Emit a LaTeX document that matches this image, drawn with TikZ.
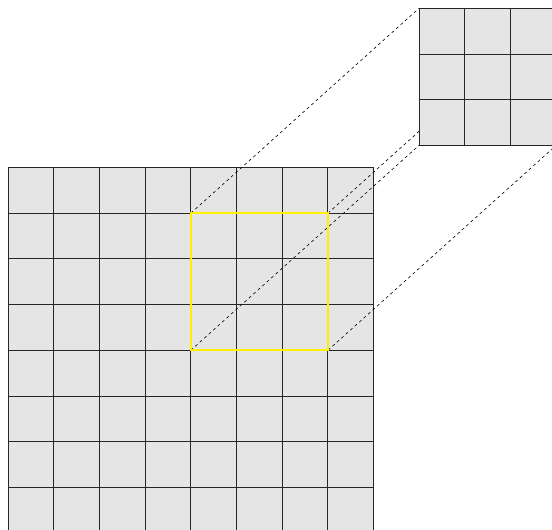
\documentclass[tikz,border=0pt]{standalone}
\usetikzlibrary{calc}
\begin{document}
\begin{tikzpicture}[x=1pt,y=-1pt,
  cellfill/.style={fill=black!10},
  gridline/.style={draw=black!85,line width=0.9pt},
  zoomline/.style={draw=black,line width=0.6pt,dash pattern=on 3pt off 3pt},
  selbox/.style={draw=yellow,line width=1.8pt}]
\useasboundingbox (0,0) rectangle (552,530);
\clip (0,0) rectangle (552,530);
\pgfmathsetmacro{\cs}{45.7}
% big grid
\coordinate (B) at (8,167.5);
\fill[cellfill] (B) rectangle +(8*\cs,8*\cs);
\foreach \i in {0,...,8}{
  \draw[gridline] ($(B)+(\i*\cs,0)$) -- ++(0,8*\cs);
  \draw[gridline] ($(B)+(0,\i*\cs)$) -- ++(8*\cs,0);
}
% selection corners
\coordinate (s1) at ($(B)+(4*\cs,1*\cs)$);
\coordinate (s2) at ($(B)+(7*\cs,1*\cs)$);
\coordinate (s3) at ($(B)+(7*\cs,4*\cs)$);
\coordinate (s4) at ($(B)+(4*\cs,4*\cs)$);
% small grid corners
\coordinate (S) at (419,8.3);
\coordinate (z1) at (S);
\coordinate (z2) at ($(S)+(3*\cs,0)$);
\coordinate (z3) at ($(S)+(3*\cs,3*\cs)$);
\coordinate (z4) at ($(S)+(0,3*\cs)$);
% dashed connectors
\draw[zoomline] (s1) -- (z1);
\draw[zoomline] (s2) -- (z2);
\draw[zoomline] (s3) -- (z3);
\draw[zoomline] (s4) -- (z4);
% small grid
\fill[cellfill] (S) rectangle +(3*\cs,3*\cs);
\foreach \i in {0,...,3}{
  \draw[gridline] ($(S)+(\i*\cs,0)$) -- ++(0,3*\cs);
  \draw[gridline] ($(S)+(0,\i*\cs)$) -- ++(3*\cs,0);
}
% selection box
\draw[selbox] (s1) rectangle (s3);
\end{tikzpicture}
\end{document}
